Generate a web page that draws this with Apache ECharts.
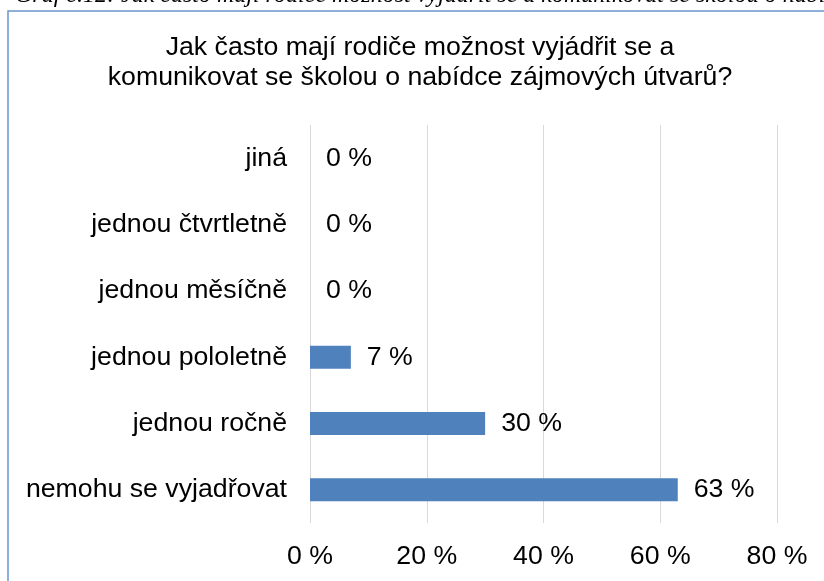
<!DOCTYPE html>
<html>
<head>
<meta charset="utf-8">
<script src="https://cdn.jsdelivr.net/npm/echarts@6/dist/echarts.min.js"></script>
<style>
  html, body { margin: 0; padding: 0; background: #fff; }
  #chart { width: 824px; height: 581px; }
</style>
</head>
<body>
<div id="chart"></div>
<script>
// bottom to top, as the category axis draws them
var categories = ['nemohu se vyjadřovat', 'jednou ročně', 'jednou pololetně', 'jednou měsíčně', 'jednou čtvrtletně', 'jiná'];
var values = [63, 30, 7, 0, 0, 0];
var xTicks = [0, 20, 40, 60, 80];
var titleText = 'Jak často mají rodiče možnost vyjádřit se a\nkomunikovat se školou o nabídce zájmových útvarů?';
var captionText = 'Graf č.12: Jak často mají rodiče možnost vyjádřit se a komunikovat se školou o nabídce zájmových útvarů?';

var font = 'Liberation Sans, Arial, sans-serif';
var fs = 26.7;
var myChart = echarts.init(document.getElementById('chart'));

myChart.setOption({
    animation: false,
    backgroundColor: '#fff',
    title: {
        text: titleText,
        left: 420,
        top: 33,
        padding: 0,
        textAlign: 'center',
        textStyle: {
            fontFamily: font,
            fontSize: fs,
            fontWeight: 'normal',
            lineHeight: 30,
            color: '#000'
        }
    },
    graphic: [
        {
            type: 'rect',
            shape: {x: 8, y: 11, width: 840, height: 600},
            style: {fill: 'none', stroke: '#6a95cf', lineWidth: 1.5},
            silent: true
        },
        {
            type: 'text',
            x: 15,
            y: -4,
            style: {
                text: captionText,
                font: 'italic 24px "Liberation Serif", "Times New Roman", serif',
                fill: '#000',
                verticalAlign: 'middle'
            },
            silent: true
        }
    ],
    grid: {
        left: 310,
        right: 47,
        top: 125,
        bottom: 58,
        containLabel: false
    },
    xAxis: {
        type: 'value',
        min: xTicks[0],
        max: xTicks[xTicks.length - 1],
        interval: 20,
        axisLine: {show: false},
        axisTick: {show: false},
        splitLine: {lineStyle: {color: '#d9d9d9', width: 1}},
        axisLabel: {
            margin: 20,
            fontFamily: font,
            fontSize: fs,
            color: '#000',
            formatter: function (v) { return v + ' %'; }
        }
    },
    yAxis: {
        type: 'category',
        data: categories,
        axisLine: {show: false},
        axisTick: {show: false},
        axisLabel: {
            margin: 23,
            fontFamily: font,
            fontSize: fs,
            color: '#000'
        }
    },
    series: [{
        type: 'bar',
        data: values,
        barWidth: 23,
        itemStyle: {color: '#4f81bd'},
        label: {
            show: true,
            position: 'right',
            distance: 16,
            fontFamily: font,
            fontSize: fs,
            color: '#000',
            formatter: function (p) { return p.value + ' %'; }
        }
    }]
});
</script>
</body>
</html>
